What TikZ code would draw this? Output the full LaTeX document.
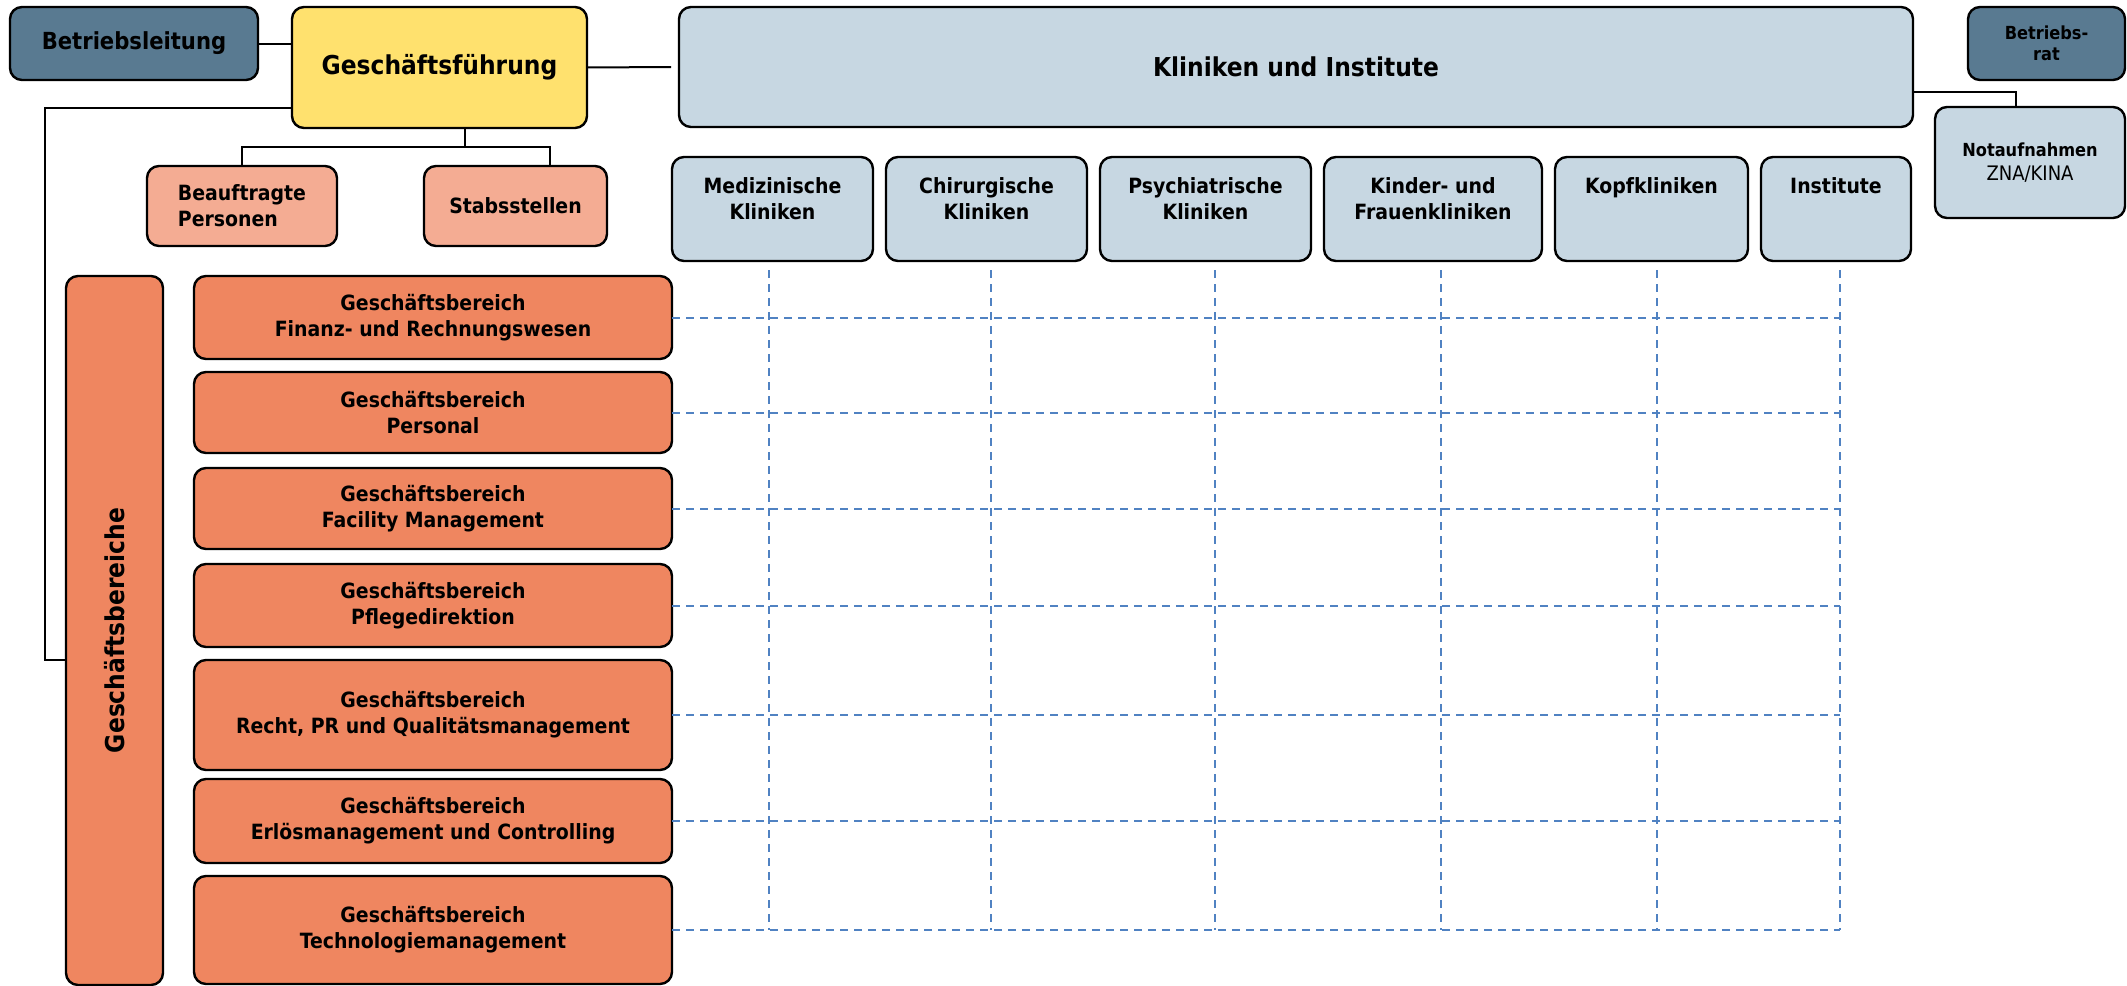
\documentclass[tikz,border=0pt]{standalone}
\usepackage{fontspec}
\usepackage{graphicx}
\setmainfont{DejaVu Sans Condensed}
\usetikzlibrary{positioning}

\definecolor{leitungblau}{HTML}{597A91}
\definecolor{gfgelb}{HTML}{FFE16E}
\definecolor{klinikblau}{HTML}{C7D7E2}
\definecolor{stablachs}{HTML}{F4AC93}
\definecolor{gborange}{HTML}{EF8660}
\definecolor{raster}{HTML}{5082C2}

\newcommand{\gbfont}{\fontsize{21}{26}\selectfont\bfseries}
\newcommand{\grossfont}{\fontsize{26}{31}\selectfont\bfseries}

\begin{document}
\begin{tikzpicture}[x=1pt,y=-1pt,line width=2pt,
  box/.style={draw,line width=2.4pt,rounded corners=12pt,inner sep=0pt,outer sep=0pt,align=center,font=\gbfont},
  leitung/.style={box,fill=leitungblau},
  gfbox/.style={box,fill=gfgelb,font=\grossfont},
  klinik/.style={box,fill=klinikblau,minimum height=104pt},
  kliniktext/.style={anchor=north,align=center,font=\gbfont,inner sep=0pt,yshift=-20pt},
  stab/.style={box,fill=stablachs,minimum width=183pt,minimum height=80pt},
  gbereich/.style={box,fill=gborange,minimum width=478pt},
  conn/.style={draw=black,line width=2pt},
  grid/.style={draw=raster,line width=2pt,dash pattern=on 8pt off 6pt}]
  \useasboundingbox (0,0) rectangle (2127,985);

  % obere Reihe
  \node[leitung,minimum width=248pt,minimum height=73pt,font=\fontsize{23.5}{28}\selectfont\bfseries] (bl) at (134,43.5) {Betriebsleitung};
  \node[gfbox,minimum width=295pt,minimum height=121pt] (gf) at (439.5,67.5) {Geschäftsführung};
  \node[box,fill=klinikblau,font=\grossfont,minimum width=1234pt,minimum height=120pt] (kui) at (1296,67) {Kliniken und Institute};
  \node[leitung,minimum width=157pt,minimum height=73pt,font=\fontsize{18}{21}\selectfont\bfseries] (brat) at (2046.5,43.5) {Betriebs-\\rat};
  \node[box,fill=klinikblau,minimum width=190pt,minimum height=111pt,font=\fontsize{20}{24}\selectfont] (nota) at (2030,162.5) {{\fontsize{18}{24}\selectfont\bfseries Notaufnahmen}\\ZNA/KINA};

  % Stabsstellen
  \node[stab,minimum width=190pt,align=left] (bp) at (242,206) {Beauftragte\\Personen};
  \node[stab] (stabs) at (515.5,206) {Stabsstellen};

  % Kliniken
  \node[klinik,minimum width=201pt,label={[kliniktext]north:{Medizinische\\Kliniken}}] (med) at (772.5,209) {};
  \node[klinik,minimum width=201pt,right=13pt of med,label={[kliniktext]north:{Chirurgische\\Kliniken}}] (chir) {};
  \node[klinik,minimum width=211pt,right=13pt of chir,label={[kliniktext]north:{Psychiatrische\\Kliniken}}] (psych) {};
  \node[klinik,minimum width=218pt,right=13pt of psych,label={[kliniktext]north:{Kinder- und\\Frauenkliniken}}] (kind) {};
  \node[klinik,minimum width=193pt,right=13pt of kind,label={[kliniktext]north:Kopfkliniken}] (kopf) {};
  \node[klinik,minimum width=150pt,right=13pt of kopf,label={[kliniktext]north:Institute}] (inst) {};

  % Geschaeftsbereiche
  \node[box,fill=gborange,font=\grossfont,minimum width=97pt,minimum height=709pt] (gbs) at (114.5,630.5) {\rotatebox{90}{Geschäftsbereiche}};
  \node[gbereich,minimum height=83pt] (fin) at (433,317.5) {Geschäftsbereich\\Finanz- und Rechnungswesen};
  \node[gbereich,minimum height=81pt,below=13pt of fin] (pers) {Geschäftsbereich\\Personal};
  \node[gbereich,minimum height=81pt,below=15pt of pers] (fac) {Geschäftsbereich\\Facility Management};
  \node[gbereich,minimum height=83pt,below=15pt of fac] (pfl) {Geschäftsbereich\\Pflegedirektion};
  \node[gbereich,minimum height=110pt,below=13pt of pfl] (recht) {Geschäftsbereich\\Recht, PR und Qualitätsmanagement};
  \node[gbereich,minimum height=84pt,below=9pt of recht] (erl) {Geschäftsbereich\\Erlösmanagement und Controlling};
  \node[gbereich,minimum height=108pt,below=13pt of erl] (tech) {Geschäftsbereich\\Technologiemanagement};

  % Verbindungen
  \draw[conn] (bl.east) -- (bl.east -| gf.west);
  \draw[conn] (gf.east) -- ([xshift=-8pt]kui.west);
  \draw[conn] ([yshift=-25pt]kui.east) -| ([xshift=-14pt]nota.north);
  \draw[conn] ([xshift=25pt]gf.south) -- ++(0,19) -| (bp.north);
  \draw[conn] ([xshift=25pt]gf.south) ++(0,19) -| ([xshift=34pt]stabs.north);
  \draw[conn] ([yshift=-40pt]gf.west) -- ++(-247,0) |- (gbs.west |- recht.north);

  % Matrix
  \coordinate (rasterende) at ([xshift=4pt]inst.south);
  \draw[grid] ([xshift=-4pt,yshift=-9pt]med.south) -- ([xshift=-4pt]med.south |- tech.east);
  \draw[grid] ([xshift=4pt,yshift=-9pt]chir.south) -- ([xshift=4pt]chir.south |- tech.east);
  \draw[grid] ([xshift=9pt,yshift=-9pt]psych.south) -- ([xshift=9pt]psych.south |- tech.east);
  \draw[grid] ([xshift=8pt,yshift=-9pt]kind.south) -- ([xshift=8pt]kind.south |- tech.east);
  \draw[grid] ([xshift=5pt,yshift=-9pt]kopf.south) -- ([xshift=5pt]kopf.south |- tech.east);
  \draw[grid] ([yshift=-9pt]rasterende) -- (rasterende |- tech.east);
  \draw[grid] (fin.east) -- (fin.east -| rasterende);
  \draw[grid] (pers.east) -- (pers.east -| rasterende);
  \draw[grid] (fac.east) -- (fac.east -| rasterende);
  \draw[grid] (pfl.east) -- (pfl.east -| rasterende);
  \draw[grid] (recht.east) -- (recht.east -| rasterende);
  \draw[grid] (erl.east) -- (erl.east -| rasterende);
  \draw[grid] (tech.east) -- (tech.east -| rasterende);
\end{tikzpicture}
\end{document}
